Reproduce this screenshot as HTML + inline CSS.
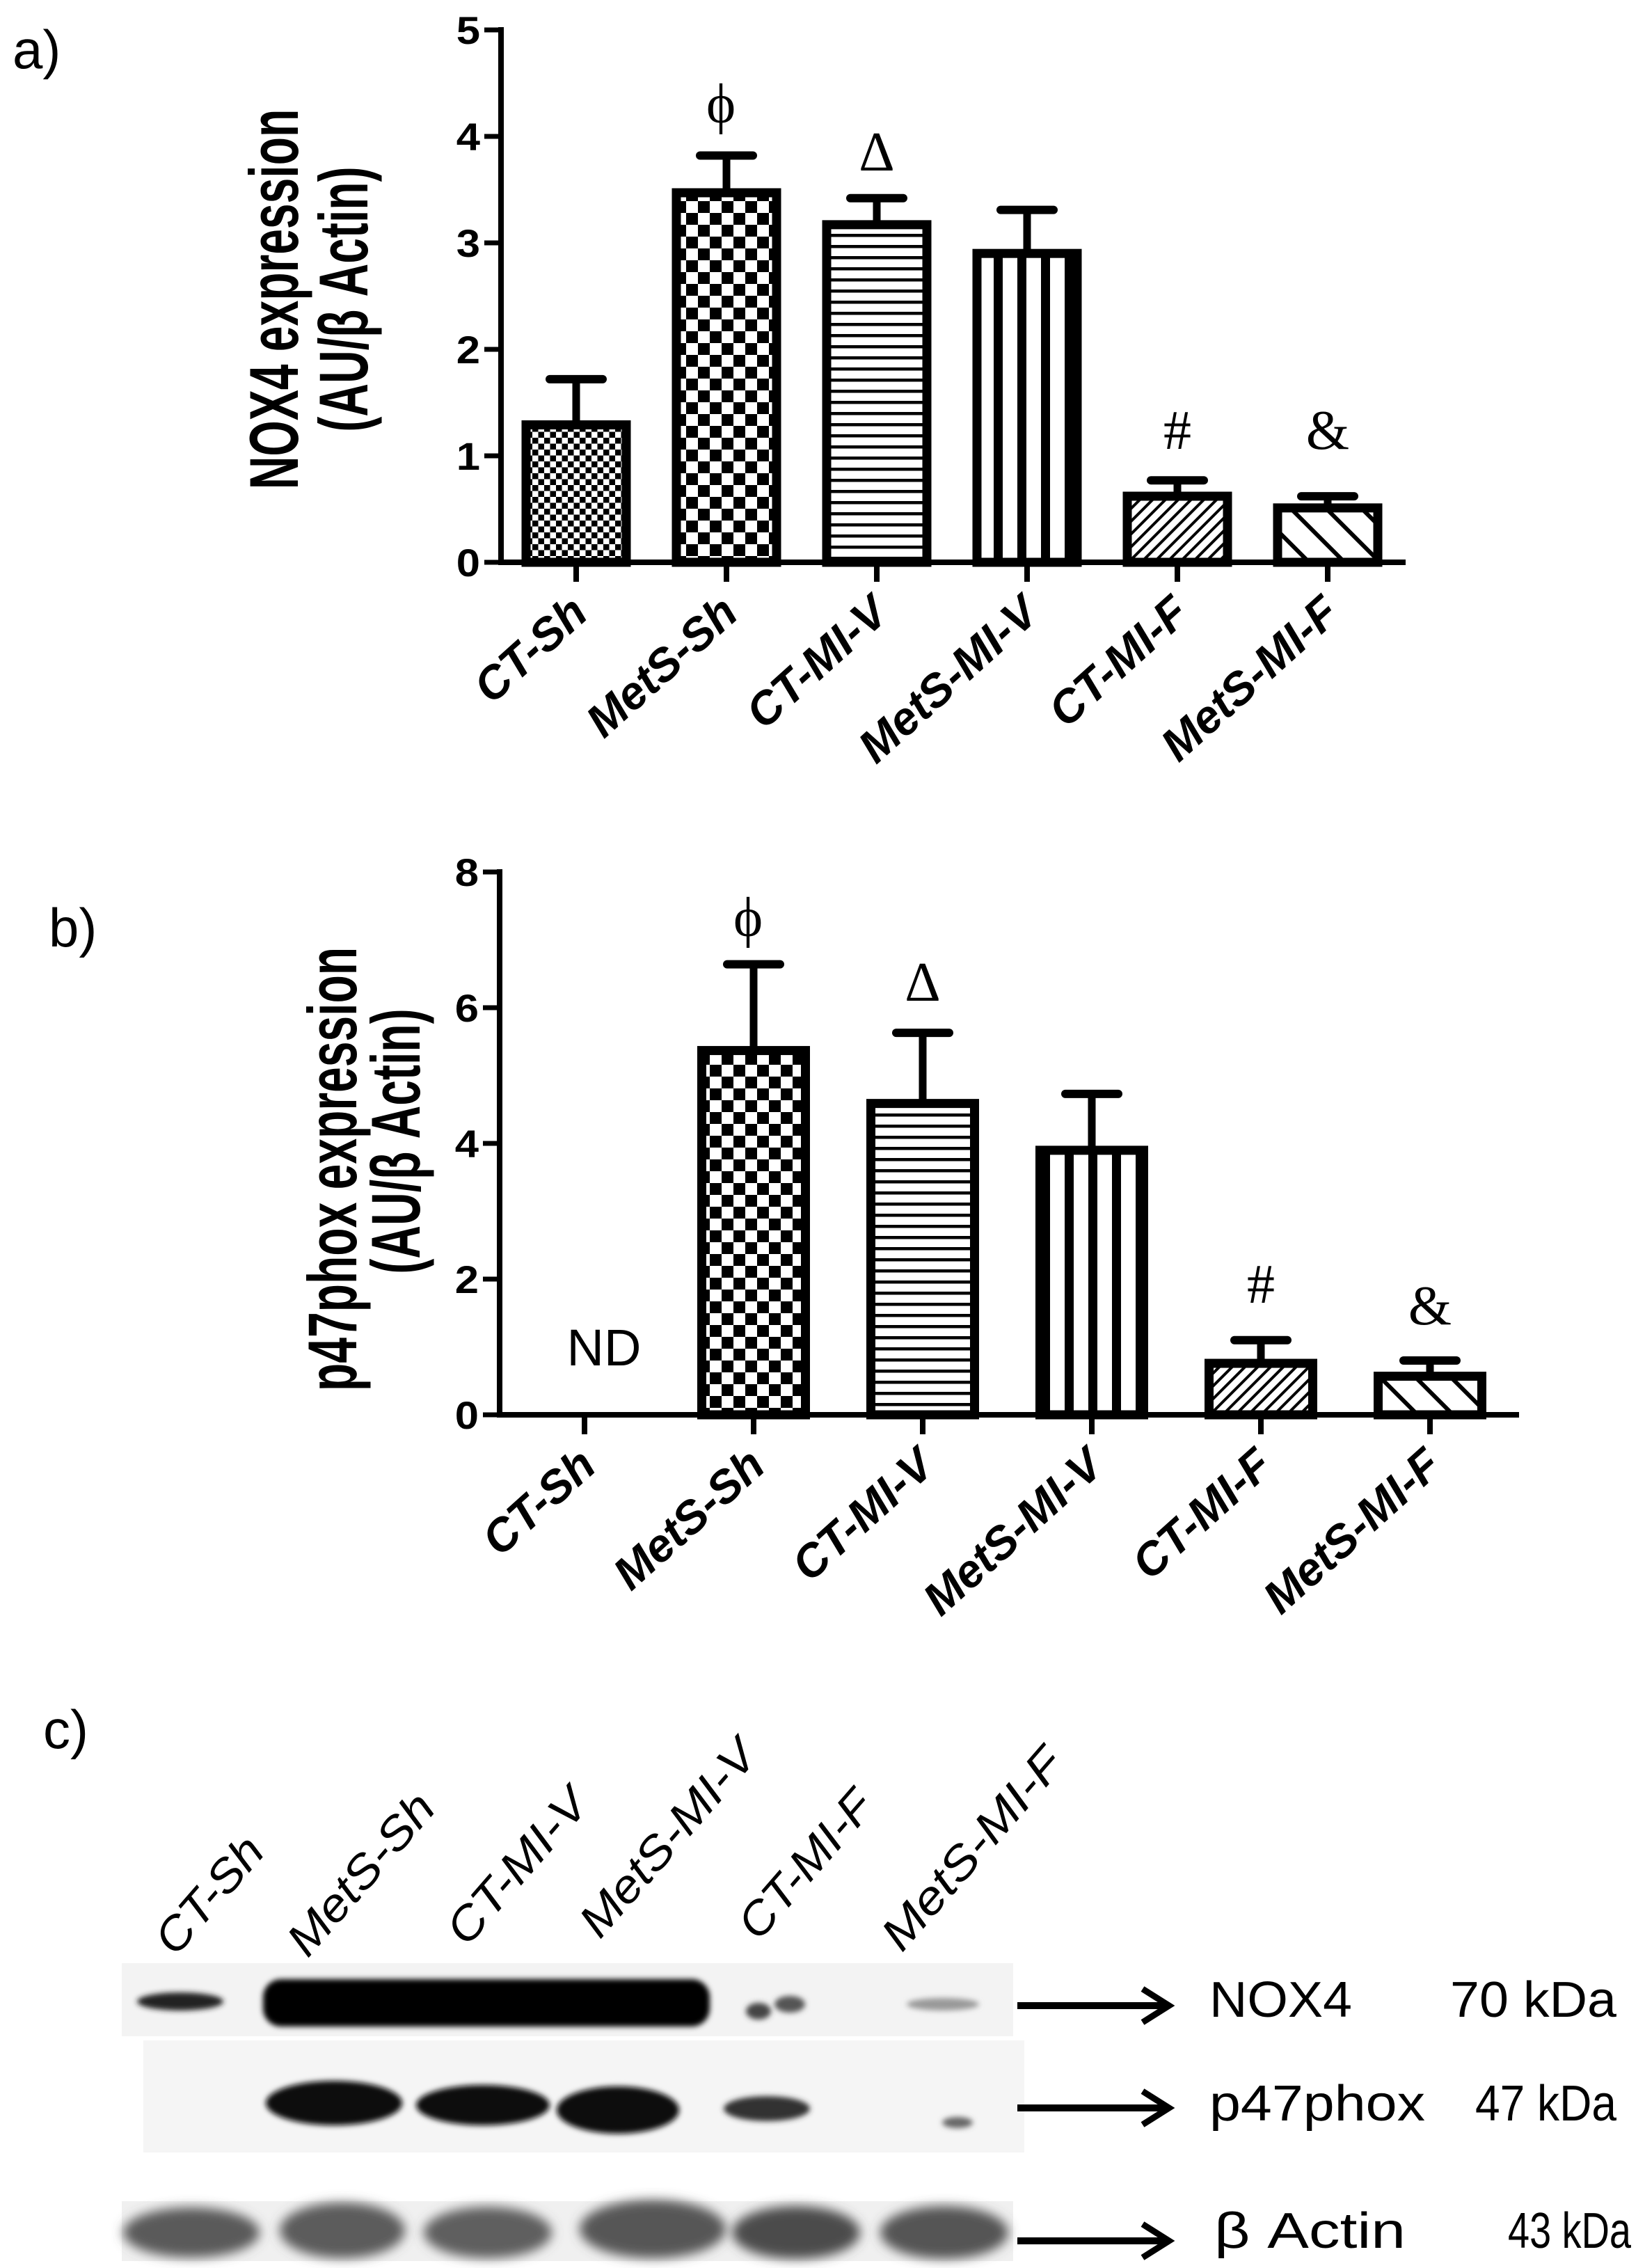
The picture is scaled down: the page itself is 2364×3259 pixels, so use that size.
<!DOCTYPE html>
<html><head><meta charset="utf-8"><style>
html,body{margin:0;padding:0;background:#fff;}
svg{display:block;}
</style></head><body>
<svg id="fig" width="2364" height="3259" viewBox="0 0 2364 3259" xmlns="http://www.w3.org/2000/svg">
<defs>
  <pattern id="pFineCheck" width="17" height="17" patternUnits="userSpaceOnUse"><rect width="17" height="17" fill="#fff"/><rect width="8.5" height="8.5" fill="#000"/><rect x="8.5" y="8.5" width="8.5" height="8.5" fill="#000"/></pattern>
  <pattern id="pCheck" width="34" height="34" patternUnits="userSpaceOnUse"><rect width="34" height="34" fill="#fff"/><rect width="17" height="17" fill="#000"/><rect x="17" y="17" width="17" height="17" fill="#000"/></pattern>
  <pattern id="pHoriz" width="16" height="16" patternUnits="userSpaceOnUse"><rect width="16" height="16" fill="#fff"/><rect y="0" width="16" height="4.5" fill="#000"/></pattern>
  <pattern id="pVert" width="34" height="34" patternUnits="userSpaceOnUse"><rect width="34" height="34" fill="#fff"/><rect x="0" width="13" height="34" fill="#000"/></pattern>
  <pattern id="pDiagF" width="13" height="13" patternUnits="userSpaceOnUse" patternTransform="rotate(45)"><rect width="13" height="13" fill="#fff"/><rect width="4" height="13" fill="#000"/></pattern>
  <pattern id="pDiagC" width="36" height="36" patternUnits="userSpaceOnUse" patternTransform="rotate(-45)"><rect width="36" height="36" fill="#fff"/><rect width="6" height="36" fill="#000"/></pattern>
  <filter id="blur8" x="-50%" y="-50%" width="200%" height="200%"><feGaussianBlur stdDeviation="8"/></filter>
  <filter id="blur4" x="-50%" y="-50%" width="200%" height="200%"><feGaussianBlur stdDeviation="4"/></filter>
</defs>
<g id="panelA"></g>
<g id="panelB"></g>
<g id="panelC"></g>
</svg>
<script>
// ---- data ----
const categories = ["CT-Sh","MetS-Sh","CT-MI-V","MetS-MI-V","CT-MI-F","MetS-MI-F"];
const patterns = ["pFineCheck","pCheck","pHoriz","pVert","pDiagF","pDiagC"];
const noxMeans = [1.33, 3.51, 3.21, 2.94, 0.66, 0.55];
const noxErrs = [0.39, 0.31, 0.21, 0.37, 0.11, 0.07];
const noxTicks = [0,1,2,3,4,5];
const noxMarks = ["", "\u03D5", "\u0394", "", "#", "&"];
const p47Means = [0, 5.43, 4.65, 3.96, 0.82, 0.63];
const p47Errs = [0, 1.21, 0.98, 0.77, 0.28, 0.17];
const p47Ticks = [0,2,4,6,8];
const p47Marks = ["", "\u03D5", "\u0394", "", "#", "&"];
const p47Missing = [true,false,false,false,false,false];

const NS="http://www.w3.org/2000/svg";
function mk(tag, attrs, parent){const e=document.createElementNS(NS,tag);for(const k in attrs)e.setAttribute(k,attrs[k]);if(parent)parent.appendChild(e);return e;}

function drawChart(g, cfg){
  const y = v => cfg.y0 - v/cfg.yMax * (cfg.y0 - cfg.yTop);
  const x = i => cfg.x0 + i*cfg.step;
  cfg.means.forEach((m,i)=>{
    if(cfg.missing && cfg.missing[i]) return;
    const bw=cfg.bw, cx=x(i), top=y(m), bot=y(0);
    const bar=mk('rect',{x:cx-bw/2+6.5,y:top+6,width:bw-13,height:bot-top-6,fill:'url(#'+patterns[i]+')',stroke:'#000','stroke-width':13},g);
    
    
    const e=cfg.errs[i];
    if(e>0){
      const ln=mk('line',{x1:cx,x2:cx,y1:top,y2:y(m+e),stroke:'#000','stroke-width':11},g);
      
      
      const cap=mk('line',{x1:cx-38,x2:cx+38,y1:y(m+e),y2:y(m+e),stroke:'#000','stroke-width':12,'stroke-linecap':'round'},g);
      
      
    }
  });
  cfg.marks.forEach((mark,i)=>{
    if(!mark) return;
    const t=mk('text',{x:x(i)+(i==1?-8:0),y:cfg.markY[i],'text-anchor':'middle','font-family':'Liberation Serif, serif','font-size':cfg.markSize},g);
    t.textContent=mark;
    
    
  });
  const ya=mk('line',{x1:cfg.axX,x2:cfg.axX,y1:cfg.yTop-4,y2:cfg.y0+4,stroke:'#000','stroke-width':8},g);
  
  
  const xa=mk('line',{x1:cfg.axX-4,x2:cfg.axEnd,y1:cfg.y0,y2:cfg.y0,stroke:'#000','stroke-width':8},g);
  
  
  cfg.ticks.forEach(v=>{
    const tl=mk('line',{x1:cfg.axX-24,x2:cfg.axX,y1:y(v),y2:y(v),stroke:'#000','stroke-width':7},g);
    
    
    const tt=mk('text',{x:0,y:0,'text-anchor':'end','font-family':'Liberation Sans, sans-serif','font-weight':'bold','font-size':56,transform:`translate(${cfg.axX-30},${y(v)+20}) scale(1.1,1)`},g);
    tt.textContent=v;
    
    
  });
  categories.forEach((c,i)=>{
    const tk=mk('line',{x1:x(i),x2:x(i),y1:cfg.y0,y2:cfg.y0+28,stroke:'#000','stroke-width':8},g);
    
    
    const lt=mk('text',{x:0,y:0,'text-anchor':'end','font-family':'Liberation Sans, sans-serif','font-weight':'bold','font-style':'italic','font-size':66,transform:`translate(${x(i)+20},${cfg.y0+78}) rotate(-42)`},g);
    lt.textContent=c;
    
    
  });
  const t1=mk('text',{x:0,y:0,'text-anchor':'middle','font-family':'Liberation Sans, sans-serif','font-weight':'bold','font-size':cfg.titleSize,transform:`translate(${cfg.t1x},${cfg.t1y}) rotate(-90) scale(1,1.5)`},g);
  t1.textContent=cfg.title1;
  
  
  const t2=mk('text',{x:0,y:0,'text-anchor':'middle','font-family':'Liberation Sans, sans-serif','font-weight':'bold','font-size':cfg.titleSize,transform:`translate(${cfg.t2x},${cfg.t2y}) rotate(-90) scale(1,1.5)`},g);
  t2.textContent="(AU/\u03B2 Actin)";
  
  
  const pl=mk('text',{x:cfg.plx,y:cfg.ply,'font-family':'Liberation Sans Narrow, Liberation Sans, sans-serif','font-size':78},g);
  pl.textContent=cfg.panel;
  
  
}

drawChart(document.getElementById('panelA'),{
  means:noxMeans, errs:noxErrs, ticks:noxTicks, marks:noxMarks, yMax:5,
  y0:808, yTop:43, axX:720, axEnd:2020, x0:828, step:216, bw:157,
  markY:[0,176,245,0,645,645], markSize:80,
  title1:"NOX4 expression", t1x:428, t1y:430, t2x:528, t2y:430, titleSize:66,
  panel:"a)", plx:18, ply:98
});
drawChart(document.getElementById('panelB'),{
  means:p47Means, errs:p47Errs, ticks:p47Ticks, marks:p47Marks, missing:p47Missing, yMax:8,
  y0:2033, yTop:1253, axX:718, axEnd:2183, x0:840, step:243, bw:162,
  markY:[0,1345,1438,0,1872,1903], markSize:80,
  title1:"p47phox expression", t1x:512, t1y:1680, t2x:603, t2y:1640, titleSize:66,
  panel:"b)", plx:70, ply:1360
});
(function(){
  const g=document.getElementById('panelB');
  const nd=mk('text',{x:868,y:1962,'text-anchor':'middle','font-family':'Liberation Sans, sans-serif','font-size':74},g);
  nd.textContent="ND";
  
  
})();

// ---- panel c: western blot ----
const laneLabels = ["CT-Sh","MetS-Sh","CT-MI-V","MetS-MI-V","CT-MI-F","MetS-MI-F"];
const proteinNames = ["NOX4","p47phox","\u03B2 Actin"];
const proteinKDa = ["70 kDa","47 kDa","43 kDa"];
(function(){
  const g=document.getElementById('panelC');
  const c=mk('text',{x:62,y:2512,'font-family':'Liberation Sans Narrow, Liberation Sans, sans-serif','font-size':78},g);
  c.textContent="c)";
  
  
  const lx=[252,442,671,862,1090,1296], ly=[2813,2815,2799,2788,2791,2807], ll=[200,285,272,350,258,360];
  laneLabels.forEach((s,i)=>{
    const t=mk('text',{x:0,y:0,'font-family':'Liberation Sans, sans-serif','font-style':'italic','font-size':66,textLength:ll[i],lengthAdjust:'spacingAndGlyphs',transform:`translate(${lx[i]},${ly[i]}) rotate(-49)`},g);
    t.textContent=s;
    
    
  });
  const bg1=mk('rect',{x:175,y:2821,width:1281,height:105,fill:'#f3f3f3'},g);
  
  
  const bg2=mk('rect',{x:206,y:2932,width:1266,height:161,fill:'#f5f5f5'},g);
  
  
  const bg3=mk('rect',{x:175,y:3163,width:1281,height:86,fill:'#f0f0f0'},g);
  
  
  const bands=[
    ['ellipse',{cx:259,cy:2876,rx:62,ry:13,fill:'#222'},4],
    ['rect',{x:378,y:2844,width:642,height:68,rx:26,fill:'#050505'},4],
    ['ellipse',{cx:1090,cy:2890,rx:18,ry:12,fill:'#444'},4],
    ['ellipse',{cx:1135,cy:2880,rx:22,ry:12,fill:'#555'},4],
    ['ellipse',{cx:1355,cy:2880,rx:52,ry:9,fill:'#999'},4],
    ['ellipse',{cx:480,cy:3022,rx:98,ry:32,fill:'#0a0a0a'},4],
    ['ellipse',{cx:694,cy:3025,rx:96,ry:29,fill:'#111'},4],
    ['ellipse',{cx:888,cy:3032,rx:88,ry:34,fill:'#0a0a0a'},4],
    ['ellipse',{cx:1102,cy:3030,rx:62,ry:18,fill:'#333'},4],
    ['ellipse',{cx:1376,cy:3050,rx:22,ry:8,fill:'#666'},3],
    ['ellipse',{cx:275,cy:3208,rx:98,ry:36,fill:'#5a5a5a'},6],
    ['ellipse',{cx:492,cy:3205,rx:90,ry:40,fill:'#5c5c5c'},6],
    ['ellipse',{cx:701,cy:3208,rx:92,ry:37,fill:'#5e5e5e'},6],
    ['ellipse',{cx:938,cy:3203,rx:105,ry:42,fill:'#565656'},6],
    ['ellipse',{cx:1144,cy:3208,rx:92,ry:38,fill:'#4c4c4c'},6],
    ['ellipse',{cx:1357,cy:3208,rx:92,ry:38,fill:'#555'},6]
  ];
  bands.forEach((b,i)=>{
    const e=mk(b[0],b[1],g);
    e.setAttribute('filter', b[2]>=6?'url(#blur8)':'url(#blur4)');
    
    
  });
  const ay=[2882,3029,3220], ty=[2898,3047,3230];
  const nameX=[1738,1738,1745], nameW=[205,310,275], kdaX=[2084,2120,2167], kdaW=[239,203,177];
  proteinNames.forEach((p,i)=>{
    const ln=mk('line',{x1:1462,x2:1672,y1:ay[i],y2:ay[i],stroke:'#000','stroke-width':10},g);
    
    
    const hd=mk('polyline',{points:`1642,${ay[i]-24} 1680,${ay[i]} 1642,${ay[i]+24}`,fill:'none',stroke:'#000','stroke-width':9},g);
    
    
    const t=mk('text',{x:nameX[i],y:ty[i],'font-family':'Liberation Sans, sans-serif','font-size':72,textLength:nameW[i],lengthAdjust:'spacingAndGlyphs'},g);
    t.textContent=p;
    
    
    const k=mk('text',{x:kdaX[i],y:ty[i],'font-family':'Liberation Sans, sans-serif','font-size':72,textLength:kdaW[i],lengthAdjust:'spacingAndGlyphs'},g);
    k.textContent=proteinKDa[i];
    
    
  });
})();
</script>
</body></html>
